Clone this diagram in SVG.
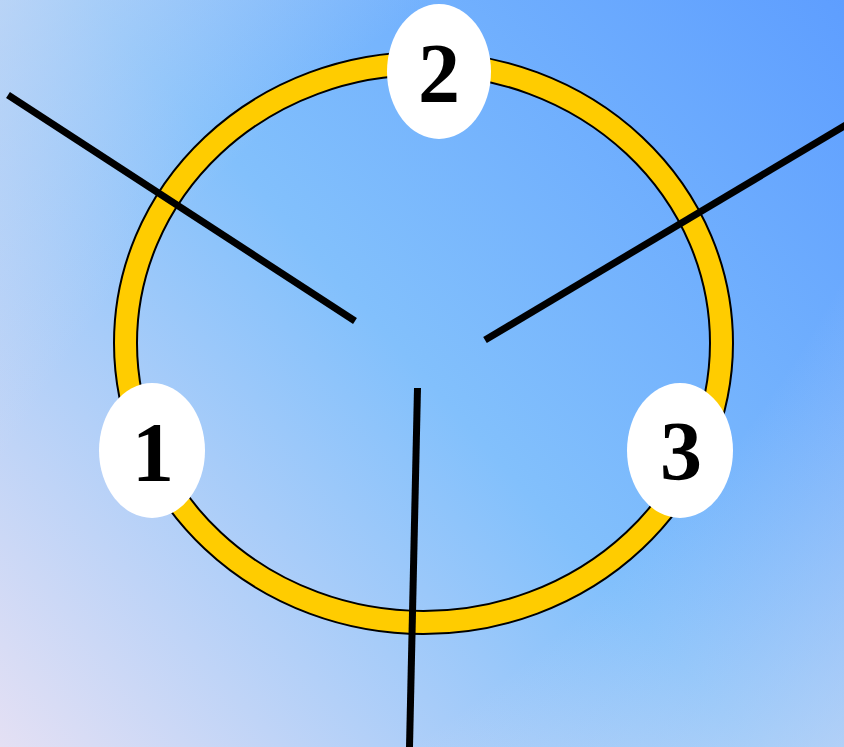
<svg xmlns="http://www.w3.org/2000/svg" width="844" height="747" viewBox="0 0 844 747">
  <defs>
    <linearGradient id="bg" gradientUnits="userSpaceOnUse" x1="0" y1="747" x2="844" y2="0">
      <stop offset="0" stop-color="#E4E0F4"/>
      <stop offset="0.5" stop-color="#82C0FC"/>
      <stop offset="1" stop-color="#5E9EFF"/>
    </linearGradient>
    <radialGradient id="haze" gradientUnits="userSpaceOnUse" cx="0" cy="0" r="1250" gradientTransform="translate(422 373) rotate(-45) scale(1 0.45)">
      <stop offset="0.5" stop-color="#E4E4F2" stop-opacity="0"/>
      <stop offset="1" stop-color="#E4E4F2" stop-opacity="0.5"/>
    </radialGradient>
    <style>
      .bubble { fill: #FFFFFF; }
      .num { font-family: "Liberation Serif", "Times New Roman", serif; font-weight: bold; font-size: 84px; fill: #000000; text-anchor: middle; }
      .spoke { stroke: #000000; stroke-width: 7; fill: none; }
      .edge { fill: none; stroke: #000000; stroke-width: 2; }
    </style>
  </defs>
  <rect width="844" height="747" fill="url(#bg)"/>
  <rect width="844" height="747" fill="url(#haze)"/>
  <g id="ring">
    <ellipse cx="423.5" cy="343" rx="298" ry="279.5" fill="none" stroke="#FFCC00" stroke-width="23"/>
    <ellipse class="edge" cx="423.5" cy="343" rx="309.5" ry="291"/>
    <ellipse class="edge" cx="423.5" cy="343" rx="286.5" ry="268"/>
  </g>
  <g id="connectors">
    <line class="spoke" x1="8" y1="95" x2="355" y2="321"/>
    <line class="spoke" x1="846" y1="125" x2="485" y2="340"/>
    <line class="spoke" x1="417.5" y1="388" x2="409.5" y2="747"/>
  </g>
  <g id="node2">
    <ellipse class="bubble" cx="439" cy="71.5" rx="52" ry="67.5"/>
    <text class="num" x="439" y="102">2</text>
  </g>
  <g id="node1">
    <ellipse class="bubble" cx="152" cy="450.5" rx="53" ry="67.5"/>
    <text class="num" x="153" y="481">1</text>
  </g>
  <g id="node3">
    <ellipse class="bubble" cx="680" cy="450.5" rx="53" ry="67.5"/>
    <text class="num" x="681" y="480">3</text>
  </g>
</svg>
